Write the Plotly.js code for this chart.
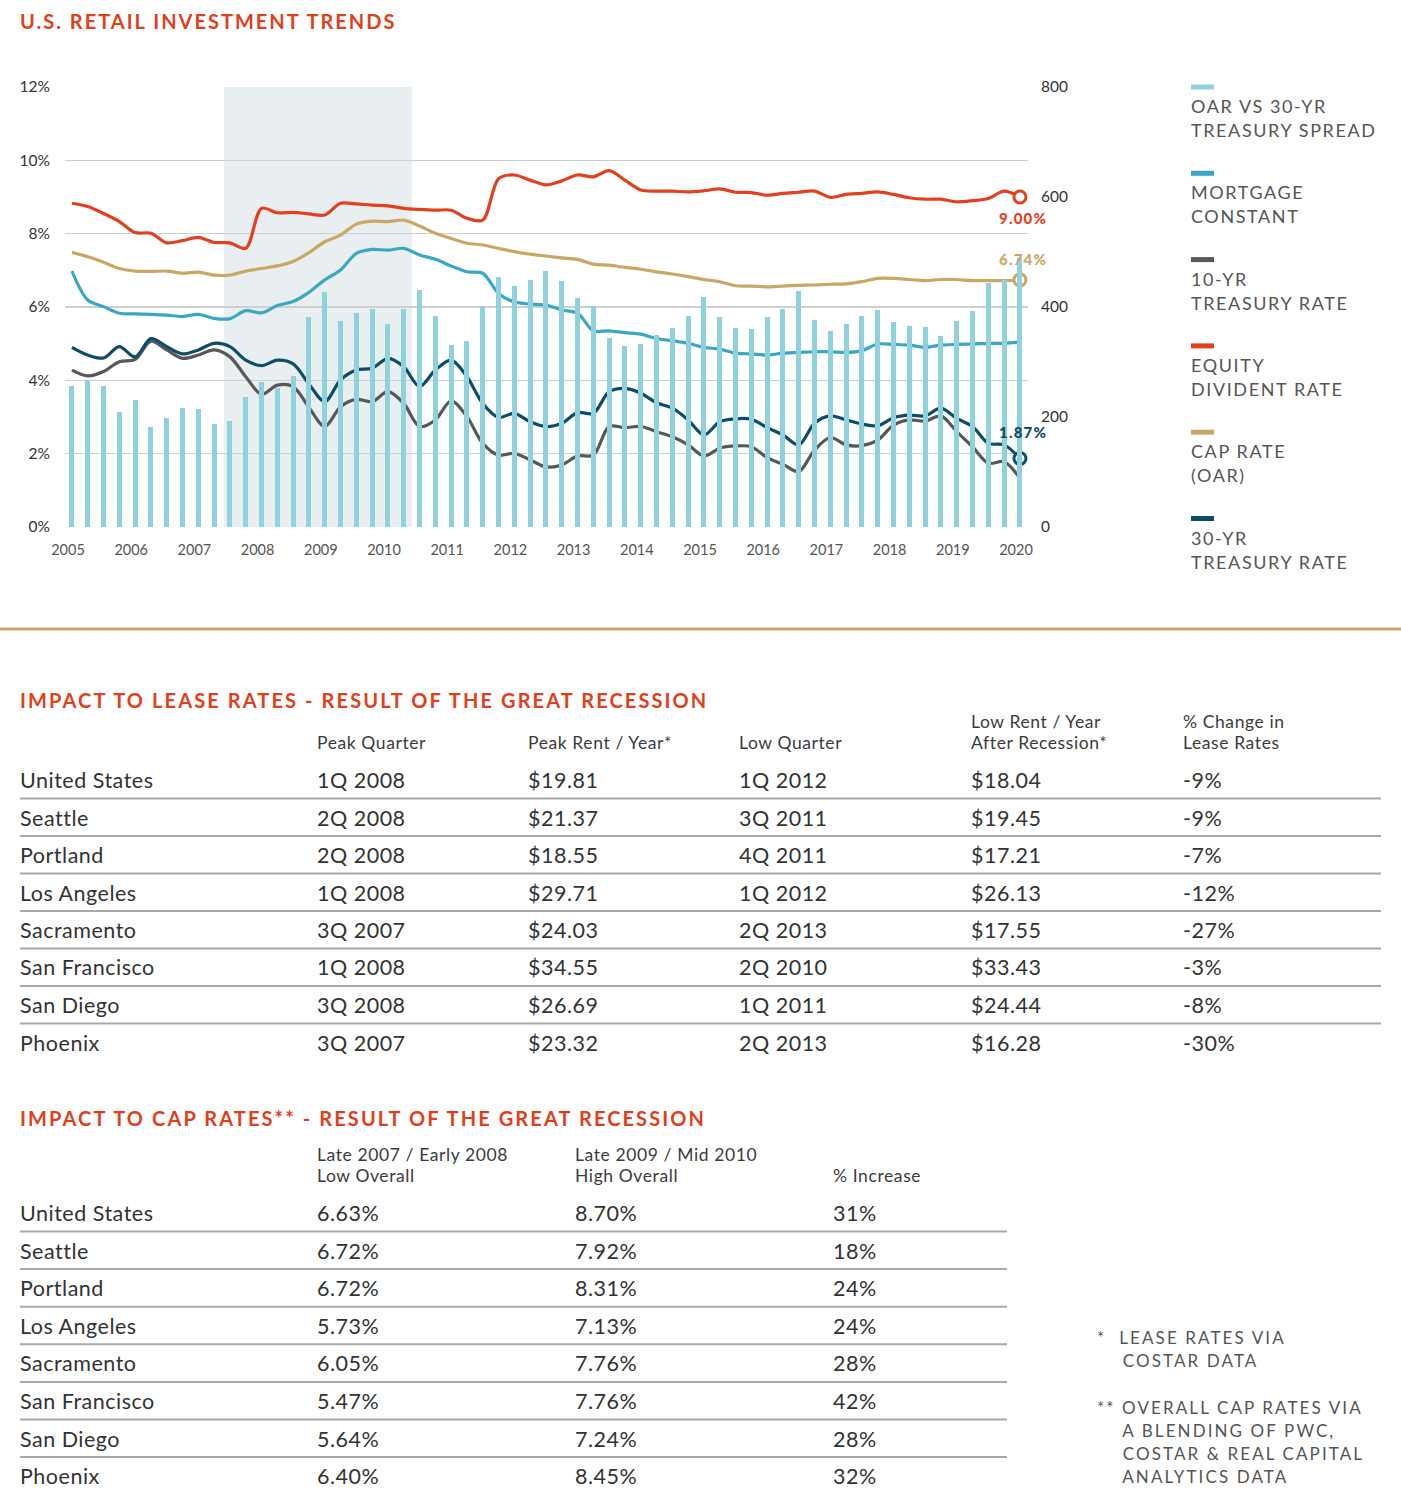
<!DOCTYPE html>
<html><head><meta charset="utf-8">
<script src="https://cdn.plot.ly/plotly-3.0.1.min.js"></script>
<style>html,body{margin:0;padding:0;background:#fff;} #chart{width:1401px;height:1502px;}</style>
</head><body><div id="chart"></div>
<script>
// ---------------- DATA ----------------
const years = [2005,2006,2007,2008,2009,2010,2011,2012,2013,2014,2015,2016,2017,2018,2019,2020];
const recession = [2007.47, 2010.44];

// OAR vs 30-yr treasury spread (bps, right axis), quarterly 2005Q1..2020Q1
const spread = [256,268,256,210,231,181,198,216,214,187,193,236,264,252,275,381,427,375,390,397,
  370,397,431,384,331,339,401,455,439,450,465,447,416,402,344,329,333,349,362,384,
  419,381,362,360,382,397,429,376,356,370,384,395,372,366,364,348,375,393,443,449,489];
const mortgageConstant = [6.98,6.19,6.01,5.83,5.81,5.80,5.78,5.74,5.80,5.69,5.68,5.90,5.84,6.04,6.15,6.40,
  6.74,7.01,7.46,7.57,7.55,7.60,7.42,7.30,7.12,6.96,6.92,6.37,6.14,6.08,6.05,
  5.92,5.83,5.35,5.35,5.30,5.26,5.14,5.08,5.01,4.90,4.85,4.74,4.72,4.69,4.74,
  4.76,4.78,4.78,4.76,4.81,4.99,4.98,4.96,4.90,4.96,4.98,4.99,5.01,5.01,5.05];
const tenYr = [4.28,4.12,4.24,4.51,4.57,5.07,4.83,4.60,4.69,4.83,4.64,4.10,3.62,3.87,3.83,3.26,
  2.74,3.28,3.48,3.42,3.69,3.37,2.74,2.92,3.44,3.01,2.28,1.96,2.01,1.83,1.64,
  1.69,1.94,1.96,2.74,2.71,2.74,2.60,2.46,2.24,1.94,2.15,2.21,2.19,1.89,1.71,
  1.51,2.10,2.44,2.24,2.22,2.37,2.78,2.92,2.89,3.03,2.60,2.19,1.74,1.78,1.33];
const equityDividend = [8.83,8.74,8.55,8.33,8.03,8.01,7.75,7.81,7.90,7.76,7.75,7.60,8.69,8.57,8.58,8.54,
  8.51,8.83,8.81,8.78,8.76,8.69,8.66,8.64,8.64,8.42,8.37,9.50,9.60,9.46,9.33,
  9.44,9.60,9.55,9.72,9.46,9.19,9.16,9.16,9.14,9.17,9.22,9.13,9.12,9.05,9.10,
  9.13,9.16,8.99,9.07,9.10,9.14,9.07,8.98,8.94,8.94,8.87,8.90,8.96,9.16,9.00];
const capRate = [7.49,7.37,7.22,7.05,6.98,6.97,6.98,6.92,6.95,6.87,6.87,6.98,7.05,7.12,7.24,7.48,
  7.78,7.96,8.26,8.34,8.33,8.37,8.21,8.01,7.87,7.74,7.69,7.60,7.51,7.44,7.39,
  7.34,7.30,7.17,7.14,7.08,7.03,6.96,6.90,6.83,6.75,6.69,6.58,6.57,6.55,6.57,
  6.59,6.60,6.62,6.63,6.69,6.78,6.78,6.75,6.72,6.75,6.75,6.72,6.72,6.72,6.74];
const thirtyYr = [4.90,4.69,4.61,4.92,4.64,5.14,4.92,4.72,4.83,5.01,4.92,4.55,4.40,4.55,4.45,3.90,
  3.42,4.01,4.28,4.33,4.60,4.37,3.83,4.28,4.55,4.10,3.37,2.99,3.10,2.87,2.74,
  2.83,3.12,3.10,3.69,3.78,3.65,3.39,3.24,2.92,2.51,2.87,2.95,2.94,2.71,2.51,
  2.24,2.83,3.03,2.92,2.81,2.76,2.98,3.05,3.03,3.24,2.96,2.74,2.28,2.24,1.87];

const leftTicks = [0,2,4,6,8,10,12];
const rightTicks = [0,200,400,600,800];

const legendNames = [["OAR VS 30-YR","TREASURY SPREAD"],["MORTGAGE","CONSTANT"],["10-YR","TREASURY RATE"],
  ["EQUITY","DIVIDENT RATE"],["CAP RATE","(OAR)"],["30-YR","TREASURY RATE"]];

const leaseHeaders = [["","Peak Quarter"],["","Peak Rent / Year*"],["","Low Quarter"],["Low Rent / Year","After Recession*"],["% Change in","Lease Rates"]];
const leaseMarkets = ["United States","Seattle","Portland","Los Angeles","Sacramento","San Francisco","San Diego","Phoenix"];
const peakQuarter = ["1Q 2008","2Q 2008","2Q 2008","1Q 2008","3Q 2007","1Q 2008","3Q 2008","3Q 2007"];
const peakRent = ["$19.81","$21.37","$18.55","$29.71","$24.03","$34.55","$26.69","$23.32"];
const lowQuarter = ["1Q 2012","3Q 2011","4Q 2011","1Q 2012","2Q 2013","2Q 2010","1Q 2011","2Q 2013"];
const lowRent = ["$18.04","$19.45","$17.21","$26.13","$17.55","$33.43","$24.44","$16.28"];
const leaseChange = ["-9%","-9%","-7%","-12%","-27%","-3%","-8%","-30%"];

const capHeaders = [["Late 2007 / Early 2008","Low Overall"],["Late 2009 / Mid 2010","High Overall"],["","% Increase"]];
const capMarkets = ["United States","Seattle","Portland","Los Angeles","Sacramento","San Francisco","San Diego","Phoenix"];
const lowOverall = ["6.63%","6.72%","6.72%","5.73%","6.05%","5.47%","5.64%","6.40%"];
const highOverall = ["8.70%","7.92%","8.31%","7.13%","7.76%","7.76%","7.24%","8.45%"];
const capIncrease = ["31%","18%","24%","24%","28%","42%","28%","32%"];

const footnotes = [["*  LEASE RATES VIA","    COSTAR DATA"],["** OVERALL CAP RATES VIA","    A BLENDING OF PWC,","    COSTAR & REAL CAPITAL","    ANALYTICS DATA"]];

// ---------------- STYLE ----------------
const C = {bar:'#8fd1dd', mort:'#3aa8c2', ten:'#58585a', eq:'#e2401f', cap:'#c9a866', thirty:'#0e4d67', red:'#e0401c'};
const FONT = 'Lato, "Open Sans", sans-serif';

// quarter positions on the numeric year axis
const qx = spread.map((_, i) => years[0] + Math.floor(i/4) + (i%4)*0.25 + 0.0625);
const last = qx.length - 1;

// pixel -> paper helpers (plot area 65..1028 x 87..527)
const PL=65, PR=1028, PT=87, PB=527;
const fx = p => (p-PL)/(PR-PL);
const fy = p => (PB-p)/(PB-PT);

const annotations = [];
const spacing = [];
function txt(text, xpx, ypx, size, color, opts={}) {
  annotations.push({xref:'paper', yref:'paper', x:fx(xpx), y:fy(ypx), text:text, showarrow:false,
    xanchor:opts.anchor||'left', align:opts.anchor==='center'?'center':'left', yanchor:'middle', borderpad:0,
    font:{family:FONT, size:size, color:color, weight:opts.weight||400}});
  spacing.push(opts.ls||0);
}

const lineTrace = (y, name, color) => ({type:'scatter', mode:'lines', x:qx, y:y, name:name,
  line:{color:color, width:3.2, shape:'spline', smoothing:0.9}, hoverinfo:'skip'});
const endMarker = (y, color) => ({type:'scatter', mode:'markers', x:[qx[last]], y:[y[last]],
  marker:{symbol:'circle', size:12, color:'#fff', line:{color:color, width:3}}, hoverinfo:'skip'});

const traces = [
  {type:'bar', x:qx, y:spread, yaxis:'y2', width:0.08, marker:{color:C.bar}, hoverinfo:'skip'},
  lineTrace(mortgageConstant, 'Mortgage Constant', C.mort),
  lineTrace(capRate, 'Cap Rate', C.cap),
  lineTrace(equityDividend, 'Equity Dividend', C.eq),
  lineTrace(tenYr, '10-Yr', C.ten),
  lineTrace(thirtyYr, '30-Yr', C.thirty),
  endMarker(equityDividend, C.eq), endMarker(capRate, C.cap), endMarker(thirtyYr, C.thirty)
];

// end value labels
function endLabel(y, color, yshift) {
  annotations.push({xref:'x', yref:'y', x:qx[last], y:y[last], text:y[last].toFixed(2)+'%', showarrow:false,
    xanchor:'center', yanchor:'middle', xshift:3, yshift:yshift, font:{family:FONT, size:15, color:color, weight:900}});
  spacing.push(1.2);
}
endLabel(equityDividend, C.eq, -21);
endLabel(capRate, C.cap, 21);
endLabel(thirtyYr, C.thirty, 26);

// title
txt('U.S. RETAIL INVESTMENT TRENDS', 19, 21, 20, C.red, {weight:700, ls:2.0});

// legend
const shapes = [];
const legendColors = [C.bar, C.mort, C.ten, C.eq, C.cap, C.thirty];
legendNames.forEach((lines, i) => {
  const top = 87 + i*86.3;
  shapes.push({type:'rect', xref:'paper', yref:'paper', x0:fx(1191), x1:fx(1214), y0:fy(top-2.5), y1:fy(top+2.5),
    fillcolor:legendColors[i], line:{width:0}});
  lines.forEach((t, j) => txt(t, 1190, top+19+j*24, 18, '#555', {ls:1.6}));
});

// recession shading
shapes.push({type:'rect', xref:'x', yref:'paper', x0:recession[0], x1:recession[1], y0:0, y1:1,
  fillcolor:'#e9eef0', line:{width:0}, layer:'below'});

// divider
shapes.push({type:'line', xref:'paper', yref:'paper', x0:fx(0), x1:fx(1401), y0:fy(629), y1:fy(629),
  line:{color:'#c9a866', width:3}});

// table 1
txt('IMPACT TO LEASE RATES - RESULT OF THE GREAT RECESSION', 19, 700, 20, C.red, {weight:700, ls:2.1});
const leaseCols = [316, 527, 738, 970, 1182];
leaseHeaders.forEach((h, c) => {
  if (h[0]) txt(h[0], leaseCols[c], 721, 17.5, '#3c3c3c', {ls:0.6});
  txt(h[1], leaseCols[c], 742, 17.5, '#3c3c3c', {ls:0.6});
});
const leaseData = [peakQuarter, peakRent, lowQuarter, lowRent, leaseChange];
leaseMarkets.forEach((m, r) => {
  const y = 780 + r*37.5;
  txt(m, 19, y, 21.5, '#333', {ls:0.5});
  leaseData.forEach((col, c) => txt(col[r], leaseCols[c], y, 21.5, '#333', {ls:0.5}));
  if (r < leaseMarkets.length-1) shapes.push({type:'line', xref:'paper', yref:'paper', x0:fx(20), x1:fx(1381),
    y0:fy(y+18.5), y1:fy(y+18.5), line:{color:'#a8a8a8', width:2}});
});

// table 2
txt('IMPACT TO CAP RATES** - RESULT OF THE GREAT RECESSION', 19, 1118, 20, C.red, {weight:700, ls:2.1});
const capCols = [316, 574, 832];
capHeaders.forEach((h, c) => {
  if (h[0]) txt(h[0], capCols[c], 1154, 17.5, '#3c3c3c', {ls:0.6});
  txt(h[1], capCols[c], 1175, 17.5, '#3c3c3c', {ls:0.6});
});
const capData = [lowOverall, highOverall, capIncrease];
capMarkets.forEach((m, r) => {
  const y = 1213 + r*37.6;
  txt(m, 19, y, 21.5, '#333', {ls:0.5});
  capData.forEach((col, c) => txt(col[r], capCols[c], y, 21.5, '#333', {ls:0.5}));
  if (r < capMarkets.length-1) shapes.push({type:'line', xref:'paper', yref:'paper', x0:fx(20), x1:fx(1007),
    y0:fy(y+18.5), y1:fy(y+18.5), line:{color:'#a8a8a8', width:2}});
});

// footnotes
footnotes[0].forEach((t, j) => txt(t.replace(/ /g,'&nbsp;'), 1096, 1337 + j*23.3, 17, '#555', {ls:2.1}));
footnotes[1].forEach((t, j) => txt(t.replace(/ /g,'&nbsp;'), 1096, 1407 + j*23.3, 17, '#555', {ls:2.1}));

const layout = {
  width:1401, height:1502, paper_bgcolor:'#fff', plot_bgcolor:'rgba(0,0,0,0)',
  margin:{l:PL, r:1401-PR, t:PT, b:1502-PB, pad:0},
  showlegend:false, bargap:0,
  font:{family:FONT},
  xaxis:{range:[2004.9525, 2020.19], tickvals:years, ticktext:years.map(String), showgrid:false, zeroline:false,
    showline:false, ticks:'', ticklabelstandoff:12, tickfont:{size:14.5, color:'#555'}, fixedrange:true},
  yaxis:{range:[0,12], tickvals:leftTicks, ticktext:leftTicks.map(v => v+'%'), showgrid:true, gridcolor:'#cfcfcf',
    gridwidth:1.5, zeroline:false, showline:false, ticks:'', ticklabelstandoff:14, tickfont:{size:15.5, color:'#333'}},
  yaxis2:{range:[0,800], overlaying:'y', side:'right', tickvals:rightTicks, ticktext:rightTicks.map(String),
    showgrid:false, zeroline:false, showline:false, ticks:'', ticklabelstandoff:12, tickfont:{size:15.5, color:'#333'}},
  shapes:shapes, annotations:annotations
};

Plotly.newPlot('chart', traces, layout, {displayModeBar:false, staticPlot:true}).then(gd => {
  gd.querySelectorAll('g.annotation').forEach(g => {
    const i = +g.getAttribute('data-index');
    const t = g.querySelector('text');
    if (t && spacing[i]) t.style.letterSpacing = spacing[i] + 'px';
  });
});
</script></body></html>
